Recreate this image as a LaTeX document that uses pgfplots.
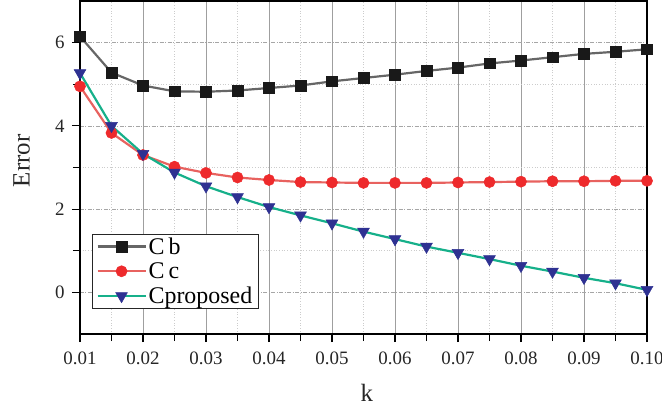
\documentclass[border=0pt]{standalone}
\usepackage{fontspec}
\setmainfont{Liberation Serif}
\usepackage{pgfplots}
\pgfplotsset{compat=1.18}

\definecolor{cbline}{HTML}{666666}
\definecolor{ccline}{HTML}{E8625F}
\definecolor{ccmark}{HTML}{EE2A2C}
\definecolor{cpline}{HTML}{16B08A}
\definecolor{cpmark}{HTML}{2E3192}

\begin{document}
\begin{tikzpicture}
\begin{axis}[
    at={(0,0)}, anchor=south west,
    scale only axis,
    width=567bp, height=333bp,
    xmin=0.01, xmax=0.10,
    ymin=-1, ymax=7,
    xtick={0.01,0.02,...,0.10},
    ytick={0,2,4,6},
    minor x tick num=1,
    minor y tick num=1,
    tick pos=left,
    tick align=outside,
    major tick length=8bp,
    minor tick length=7bp,
    xticklabel style={/pgf/number format/fixed, /pgf/number format/fixed zerofill, /pgf/number format/precision=2, yshift=-6bp},
    yticklabel style={xshift=-4bp},
    /pgf/number format/assume math mode=true,
    ticklabel style={font=\fontsize{19}{22}\selectfont, text=black!85},
    xlabel={k}, ylabel={Error},
    label style={font=\fontsize{25}{29}\selectfont, text=black!85},
    xlabel style={at={(axis description cs:0.506,-0.177)}, anchor=center},
    ylabel style={at={(axis description cs:-0.103,0.52)}, anchor=center, rotate=0},
    axis line style={black, line width=1.3pt},
    tick style={black, line width=1.1pt},
    grid=both,
    major x grid style={gray!75, line width=0.7pt},
    major y grid style={gray!70, line width=0.7pt, dash pattern=on 4pt off 1.5pt on 1pt off 1.5pt},
    minor grid style={gray!40, line width=0.7pt, dotted},
    legend style={at={(0.0212,0.30)}, anchor=north west, draw=black!85, line width=0.9pt,
        font=\fontsize{24}{26}\selectfont, row sep=3bp, inner xsep=4pt, inner ysep=1pt},
    legend cell align={left},
    legend image code/.code={
        \draw[mark repeat=2,mark phase=2,#1] plot coordinates {(0bp,0bp) (24bp,0bp) (48bp,0bp)};
    },
    clip=false,
]
\addplot[cbline, line width=2.2pt, mark=square*, mark size=5.3pt, mark options={fill=black!90, draw=black!90, line width=0.5pt}] coordinates {
(0.010,6.15) (0.015,5.28) (0.020,4.97) (0.025,4.83) (0.030,4.82) (0.035,4.85)
(0.040,4.91) (0.045,4.97) (0.050,5.07) (0.055,5.15) (0.060,5.23) (0.065,5.32)
(0.070,5.40) (0.075,5.50) (0.080,5.57) (0.085,5.65) (0.090,5.73) (0.095,5.78) (0.100,5.84)
};
\addlegendentry{C\,b}
\addplot[ccline, line width=2.2pt, mark=*, mark size=5.6pt, mark options={fill=ccmark, draw=ccmark, line width=0.5pt}] coordinates {
(0.010,4.95) (0.015,3.83) (0.020,3.30) (0.025,3.02) (0.030,2.87) (0.035,2.76)
(0.040,2.70) (0.045,2.65) (0.050,2.64) (0.055,2.63) (0.060,2.63) (0.065,2.63)
(0.070,2.64) (0.075,2.65) (0.080,2.66) (0.085,2.67) (0.090,2.67) (0.095,2.68) (0.100,2.68)
};
\addlegendentry{C\,c}
\addplot[cpline, line width=2.2pt, mark=triangle*, mark size=6.8pt, mark options={fill=cpmark, draw=cpmark, line width=0.5pt, rotate=180}] coordinates {
(0.010,5.27) (0.015,4.00) (0.020,3.33) (0.025,2.88) (0.030,2.55) (0.035,2.29)
(0.040,2.05) (0.045,1.85) (0.050,1.66) (0.055,1.46) (0.060,1.28) (0.065,1.10)
(0.070,0.95) (0.075,0.80) (0.080,0.64) (0.085,0.50) (0.090,0.35) (0.095,0.22) (0.100,0.06)
};
\addlegendentry{Cproposed}
\end{axis}
\pgfresetboundingbox
\useasboundingbox (-80bp,-78bp) rectangle (582bp,334bp);
\end{tikzpicture}
\end{document}
